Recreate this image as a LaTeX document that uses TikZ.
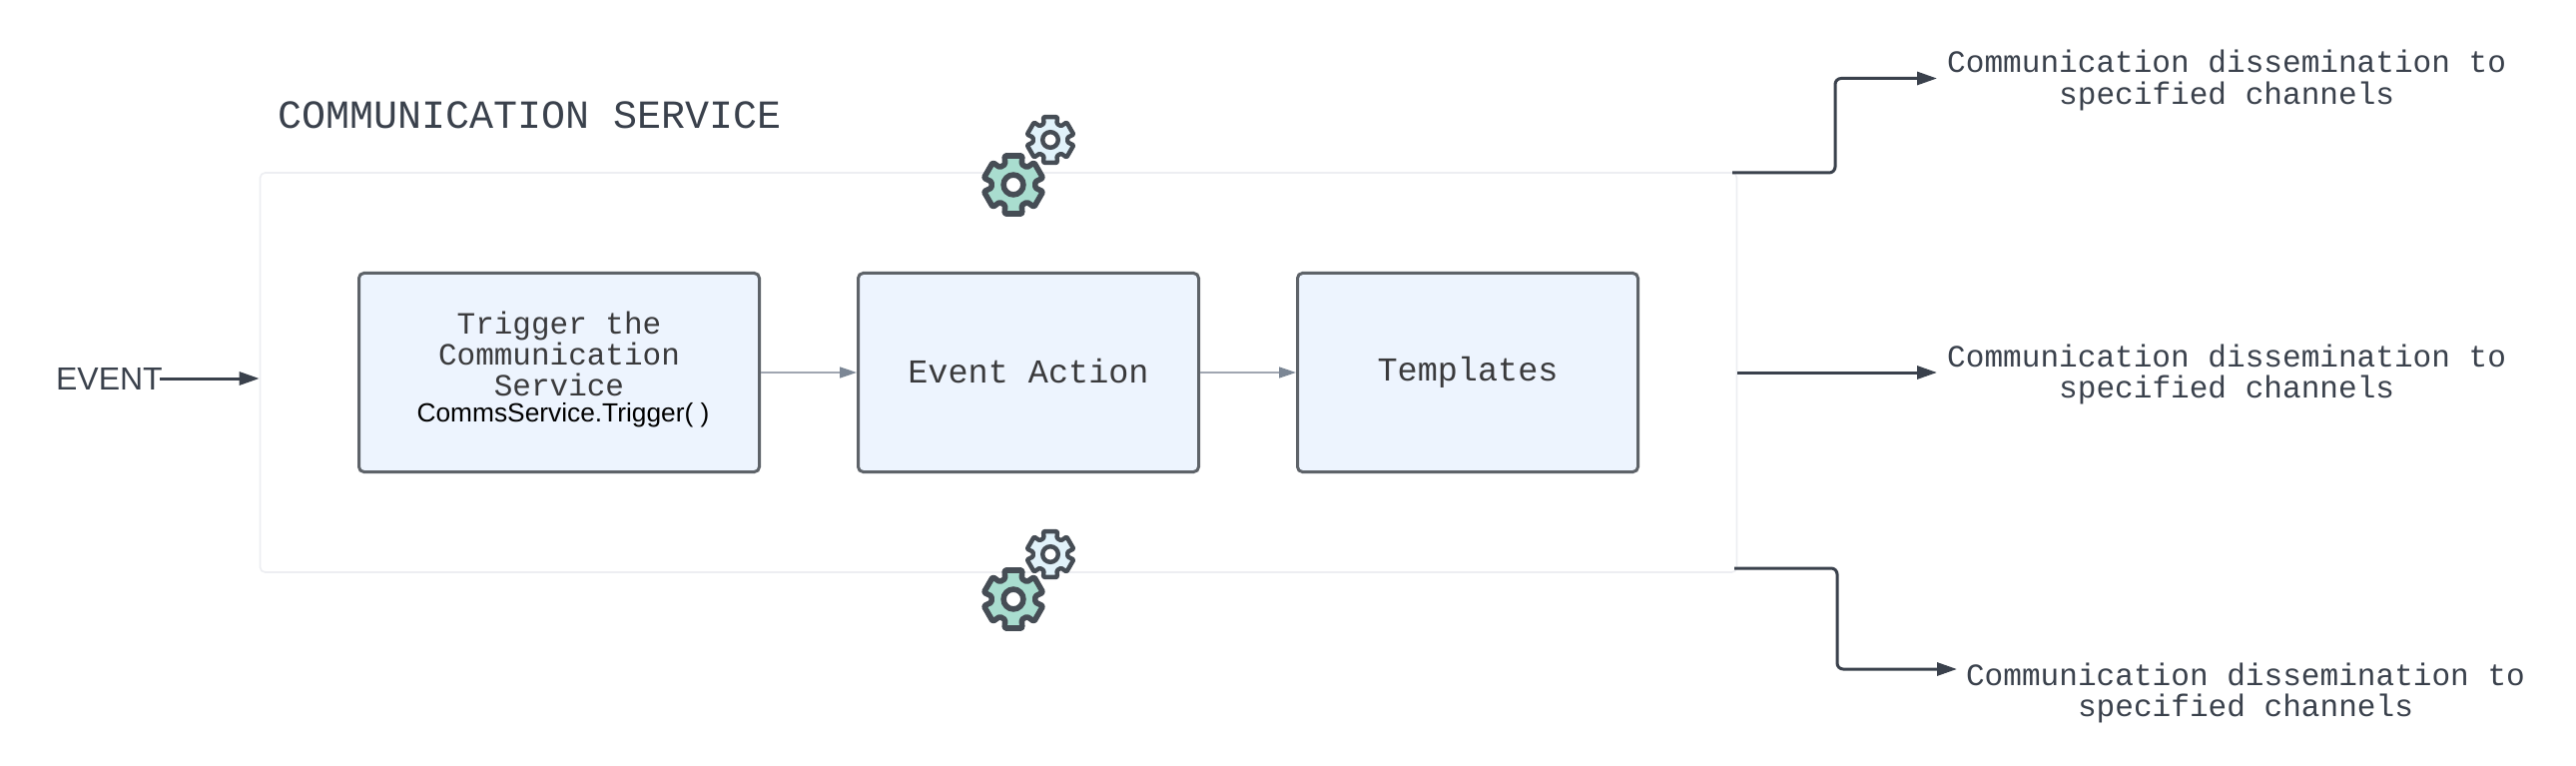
\documentclass[tikz,border=0pt]{standalone}
\usepackage{fontspec}
\setmainfont{Liberation Sans}
\setmonofont{Liberation Mono}
\usetikzlibrary{arrows.meta,calc}
\definecolor{ink}{HTML}{3A414C}
\definecolor{boxtext}{HTML}{3A3A3C}
\definecolor{boxline}{HTML}{5E6369}
\definecolor{boxfill}{HTML}{EDF4FE}
\definecolor{frameline}{HTML}{EDEEF2}
\definecolor{thinline}{HTML}{A0A6B1}
\definecolor{thintip}{HTML}{7C8795}
\definecolor{gearline}{HTML}{464D55}
\definecolor{gearbig}{HTML}{A9DDCF}
\definecolor{gearsmall}{HTML}{E1F2FA}
\tikzset{
  x=1pt,y=-1pt,
  frame/.style={draw=frameline,line width=1.6pt,rounded corners=5pt,fill=white,minimum width=1479pt,minimum height=400pt,inner sep=0pt},
  stepbox/.style={draw=boxline,line width=3pt,rounded corners=5pt,fill=boxfill,minimum height=199pt,inner sep=0pt,align=center,text=boxtext,font=\ttfamily\fontsize{33.5}{33.5}\selectfont},
  triggertext/.style={inner sep=0pt,align=center,text=boxtext,font=\ttfamily\fontsize{31}{31}\selectfont},
  boldarrow/.style={draw=ink,line width=3pt,rounded corners=6pt,-{Triangle[length=20pt,width=13pt,fill=ink]}},
  thinarrow/.style={draw=thinline,line width=1.6pt,-{Triangle[length=17pt,width=11pt,fill=thintip,color=thintip]}},
  outlabel/.style={align=center,text=ink,inner sep=0pt,font=\ttfamily\fontsize{31.1}{31.1}\selectfont},
  pics/gear/.style n args={2}{code={
    \path[draw=gearline,fill=#2,line width=0.17*#1 pt,line join=round,rounded corners=0.04*#1 pt]
      (90-17:0.92*#1)
      \foreach \a in {90,150,210,270,330,390}{
        -- (\a-17:0.92*#1) -- (\a+17:0.92*#1) -- (\a+22:0.67*#1) -- (\a+38:0.67*#1)
      } -- cycle;
    \path[draw=gearline,fill=white,line width=0.17*#1 pt] (0,0) circle[radius=0.30*#1];
  }}
}
\begin{document}
\begin{tikzpicture}
\useasboundingbox (0,0) rectangle (2580,767);
\fill[white] (0,0) rectangle (2580,767);

\node[frame] (svc) at (1000,373) {};
\node[anchor=west,inner sep=0pt,text=ink,font=\ttfamily\fontsize{40}{40}\selectfont] (title) at (278,115) {COMMUNICATION SERVICE};

\node[stepbox,minimum width=401pt] (trigger) at (560,373) {};
\node[triggertext] (triggerlabel) at (560,370) {Trigger the\\[0pt]Communication\\[0pt]Service\\[-5pt]\hspace*{8pt}{\rmfamily\color{black}\fontsize{26.3}{31}\selectfont CommsService.Trigger( )}};
\node[stepbox,minimum width=341pt] (action) at (1030,373) {\raisebox{1.5pt}[\height][\depth]{Event Action}};
\node[stepbox,minimum width=341pt] (templates) at (1470,373) {Templates};

\draw[thinarrow] (trigger.east) -- (action.west);
\draw[thinarrow] (action.east) -- (templates.west);

\node[anchor=east,inner sep=0pt,text=ink,font=\rmfamily\fontsize{32}{32}\selectfont] (event) at (163,379) {EVENT};
\coordinate (eventout) at (160,379);
\draw[boldarrow] (eventout) -- (svc.west |- eventout);

\node[outlabel,anchor=west,inner sep=10pt] (lab1) at (1940,80.5) {Communication dissemination to\\specified channels};
\node[outlabel,anchor=west,inner sep=10pt] (lab2) at (1940,375) {Communication dissemination to\\specified channels};
\node[outlabel] (lab3) at (2249,694) {Communication dissemination to\\specified channels};

\coordinate (topstart) at (1735,173);
\coordinate (topend) at (1940,78.5);
\coordinate (midend) at (1940,373);
\coordinate (botstart) at (1737,569);
\coordinate (botend) at (1960,670);
\draw[boldarrow] (topstart) -- (1838,173) -- (1838,78.5) -- (topend);
\draw[boldarrow] (svc.east) -- (midend);
\draw[boldarrow] (botstart) -- (1840,569) -- (1840,670) -- (botend);

\pic at (1052,140) {gear={26}{gearsmall}};
\pic at (1015,185) {gear={33}{gearbig}};
\pic at (1052,555) {gear={26}{gearsmall}};
\pic at (1015,600) {gear={33}{gearbig}};
\end{tikzpicture}
\end{document}
